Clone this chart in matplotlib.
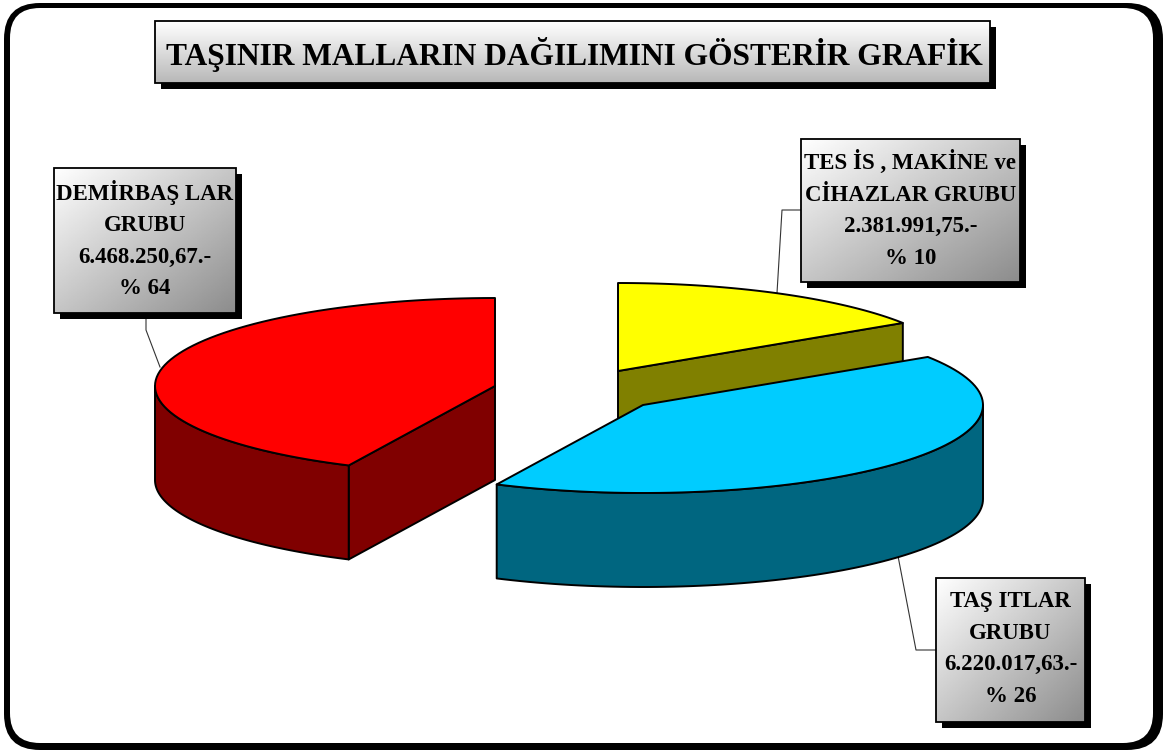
import numpy as np, matplotlib
matplotlib.use("Agg")
import matplotlib.pyplot as plt
from matplotlib.patches import FancyBboxPatch, Rectangle

plt.rcParams["font.family"] = ["Liberation Serif", "DejaVu Serif"]

title = "TAŞINIR MALLARIN DAĞILIMINI GÖSTERİR GRAFİK"
groups = ["DEMİRBAŞ LAR\nGRUBU", "TAŞ ITLAR\nGRUBU", "TES İS , MAKİNE ve\nCİHAZLAR GRUBU"]
amounts = [6468250.67, 6220017.63, 2381991.75]
amount_labels = ["6.468.250,67.-", "6.220.017,63.-", "2.381.991,75.-"]
percent_labels = ["% 64", "% 26", "% 10"]

# pie look: pixel coords, slices start at 12 o'clock and run counter-clockwise
RX, RY, DEPTH = 340, 88, 94
centers = [(495, 386), (643, 405), (618, 371)]
tops = ["#FF0000", "#00CCFF", "#FFFF00"]
sides = ["#800000", "#006680", "#808000"]
boxes = [(54, 168, 182, 145), (936, 578, 149, 144), (801, 139, 219, 143)]
leaders = [[(146, 313), (146, 330), (160, 367)],
           [(936, 650), (916, 650), (898, 556)],
           [(801, 210), (782, 210), (777, 293)]]

fig = plt.figure(figsize=(11.64, 7.51), dpi=100)
ax = fig.add_axes([0, 0, 1, 1])


def grad_box(x, y, w, h, diagonal, low):
    ax.add_patch(Rectangle((x + 6, y + 6), w, h, fc="black", ec="black", lw=0, zorder=6))
    yy, xx = np.mgrid[0:1:100j, 0:1:100j]
    g = (xx + yy) / 2 if diagonal else yy
    ax.imshow(1 - (1 - low) * g, cmap="gray", vmin=0, vmax=1, extent=(x, x + w, y + h, y),
              aspect="auto", zorder=7, interpolation="bilinear")
    ax.add_patch(Rectangle((x, y), w, h, fc="none", ec="black", lw=1.3, zorder=8))


def arc(c, t0, t1, dz=0):
    t = np.radians(np.linspace(t0, t1, 80))
    return c[0] + RX * np.cos(t), c[1] - RY * np.sin(t) + dz


ax.add_patch(FancyBboxPatch((4, 3), 1159, 747, boxstyle="round,pad=0,rounding_size=36", fc="black", ec="none", zorder=1))
ax.add_patch(FancyBboxPatch((10, 8), 1143, 735, boxstyle="round,pad=0,rounding_size=30", fc="white", ec="none", zorder=2))

# slice angles come from the amounts
ends = 90 + np.cumsum(amounts) / np.sum(amounts) * 360
starts = np.r_[90, ends[:-1]]

for i in [2, 0, 1]:  # yellow at the back, blue in front
    c, t0, t1 = centers[i], starts[i], ends[i]
    z = 3 + [2, 0, 1].index(i) * 0.1
    kw = dict(edgecolor="black", lw=1.4, joinstyle="round", zorder=z)
    # radial wall on the slice end that faces the viewer
    if i == 0 or i == 2:
        t_end = t1 if i == 0 else t0
        ex, ey = arc(c, t_end, t_end, 0)
        ax.fill([c[0], ex[0], ex[0], c[0]], [c[1], ey[0], ey[0] + DEPTH, c[1] + DEPTH],
                facecolor=sides[i], **kw)
    # outer wall, only the front half of the ellipse
    w0, w1 = max(t0, 180), min(t1, 360)
    if w1 > w0:
        ax_, ay = arc(c, w0, w1)
        _, by = arc(c, w0, w1, DEPTH)
        ax.fill(np.r_[ax_, ax_[::-1]], np.r_[ay, by[::-1]], facecolor=sides[i], **kw)
    x, y = arc(c, t0, t1)
    ax.fill(np.r_[c[0], x], np.r_[c[1], y], facecolor=tops[i], **kw)

for pts in leaders:
    ax.plot(*zip(*pts), color="#333333", lw=0.8, zorder=2.5)

for i, (x, y, w, h) in enumerate(boxes):
    grad_box(x, y, w, h, True, 0.55)
    ax.text(x + w / 2, y + h / 2 - 1, f"{groups[i]}\n{amount_labels[i]}\n{percent_labels[i]}", ha="center", va="center",
            fontsize=16.5, fontweight="bold", linespacing=1.66, zorder=9)

grad_box(155, 21, 835, 62, False, 0.72)
ax.text(574, 54, title, ha="center", va="center", fontsize=22.7, fontweight="bold", zorder=9)

ax.set_xlim(0, 1164)
ax.set_ylim(751, 0)
ax.axis("off")
fig.savefig("out.png", dpi=100, facecolor="white")
